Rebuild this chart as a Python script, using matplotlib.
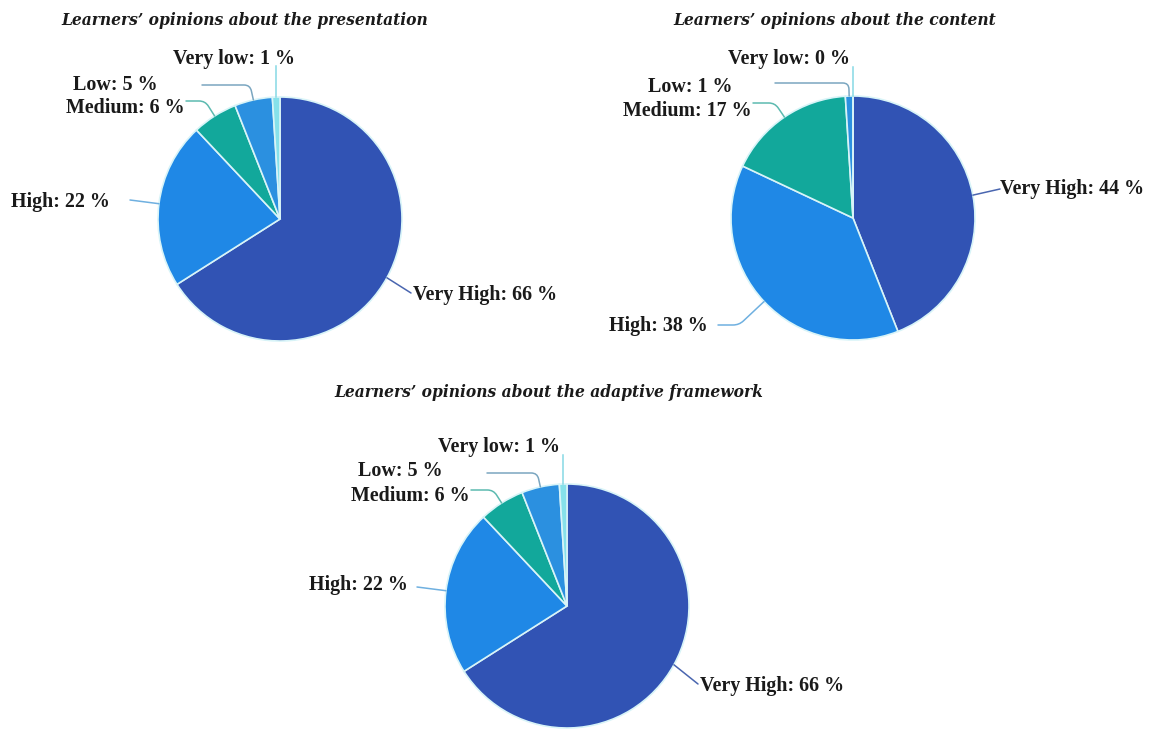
import numpy as np
import matplotlib
matplotlib.use("Agg")
import matplotlib.pyplot as plt

# ---------------- data ----------------
categories = ["Very High", "High", "Medium", "Low", "Very low"]
presentation = [66, 22, 6, 5, 1]
content = [44, 38, 17, 1, 0]
framework = [66, 22, 6, 5, 1]
titles = [
    "Learners\u2019 opinions about the presentation",
    "Learners\u2019 opinions about the content",
    "Learners\u2019 opinions about the adaptive framework",
]

# ---------------- style ----------------
slice_colors = ["#3153b4", "#1f88e6", "#12a89b", "#2b90e0", "#86e1ea"]
line_colors = ["#4a66b0", "#6fb0e0", "#5cbab0", "#7aa6c0", "#86d9e4"]
W, H = 1152, 729
R = 122

fig = plt.figure(figsize=(W / 100, H / 100), dpi=100)
ax = fig.add_axes([0, 0, 1, 1])

def Y(y):
    return H - y

label_font = dict(family=["Liberation Serif", "DejaVu Serif"], fontweight="bold", fontsize=14.4, color="#1a1a1a")
title_font = dict(family=["DejaVu Serif"], fontweight="bold", style="italic", fontsize=11.2, color="#1a1a1a")

# layout per chart: center, title pos, and for each category (text x, text y, ha, line start x, line start y, style)
layouts = [
    dict(center=(280, 219), title=(245, 20),
         labels=[(413, 295, "left", 411, 293, "straight"),
                 (110, 202, "right", 130, 200, "straight"),
                 (185, 108, "right", 186, 101, "angle"),
                 (158, 85, "right", 202, 85, "angle"),
                 (295, 59, "right", None, 66, "vertical")]),
    dict(center=(853, 218), title=(835, 20),
         labels=[(1000, 189, "left", 1000, 189, "straight"),
                 (708, 326, "right", 718, 325, "angle"),
                 (752, 111, "right", 753, 103, "angle"),
                 (732, 87, "right", 775, 83, "angle"),
                 (850, 59, "right", None, 67, "vertical")]),
    dict(center=(567, 606), title=(549, 392),
         labels=[(700, 686, "left", 698, 684, "straight"),
                 (408, 585, "right", 417, 587, "straight"),
                 (470, 496, "right", 471, 490, "angle"),
                 (443, 471, "right", 487, 473, "angle"),
                 (560, 447, "right", None, 455, "vertical")]),
]

datasets = [presentation, content, framework]

for vals, lay, title in zip(datasets, layouts, titles):
    cx, cy = lay["center"]
    wedges, _ = ax.pie(vals, colors=slice_colors, startangle=90, counterclock=False,
                       center=(cx, Y(cy)), radius=R, frame=True,
                       wedgeprops=dict(edgecolor="#d8f4f8", linewidth=1.2))
    ax.text(lay["title"][0], Y(lay["title"][1]), title, ha="center", va="center", **title_font)
    for i, (w, cat, v) in enumerate(zip(wedges, categories, vals)):
        tx, ty, ha, sx, sy, style = lay["labels"][i]
        mid = np.deg2rad((w.theta1 + w.theta2) / 2)
        px = cx + R * np.cos(mid)
        py = Y(cy) + R * np.sin(mid)
        ax.text(tx, Y(ty), f"{cat}: {v} %", ha=ha, va="center", **label_font, zorder=3)
        if style == "vertical":
            ax.plot([px, px], [py, Y(sy)], color=line_colors[i], lw=1.1, zorder=2)
        elif style == "straight":
            ax.annotate("", xy=(px, py), xytext=(sx, Y(sy)),
                        arrowprops=dict(arrowstyle="-", color=line_colors[i], lw=1.1,
                                        shrinkA=0, shrinkB=0, connectionstyle="arc3"))
        else:
            ang = np.rad2deg(mid)
            ax.annotate("", xy=(px, py), xytext=(sx, Y(sy)),
                        arrowprops=dict(arrowstyle="-", color=line_colors[i], lw=1.1,
                                        shrinkA=0, shrinkB=0,
                                        connectionstyle=f"angle,angleA=0,angleB={ang:.1f},rad=6"))

ax.set_xlim(0, W)
ax.set_ylim(0, H)
ax.set_aspect("auto")
ax.axis("off")
fig.savefig("out.png", dpi=100, facecolor="white")
